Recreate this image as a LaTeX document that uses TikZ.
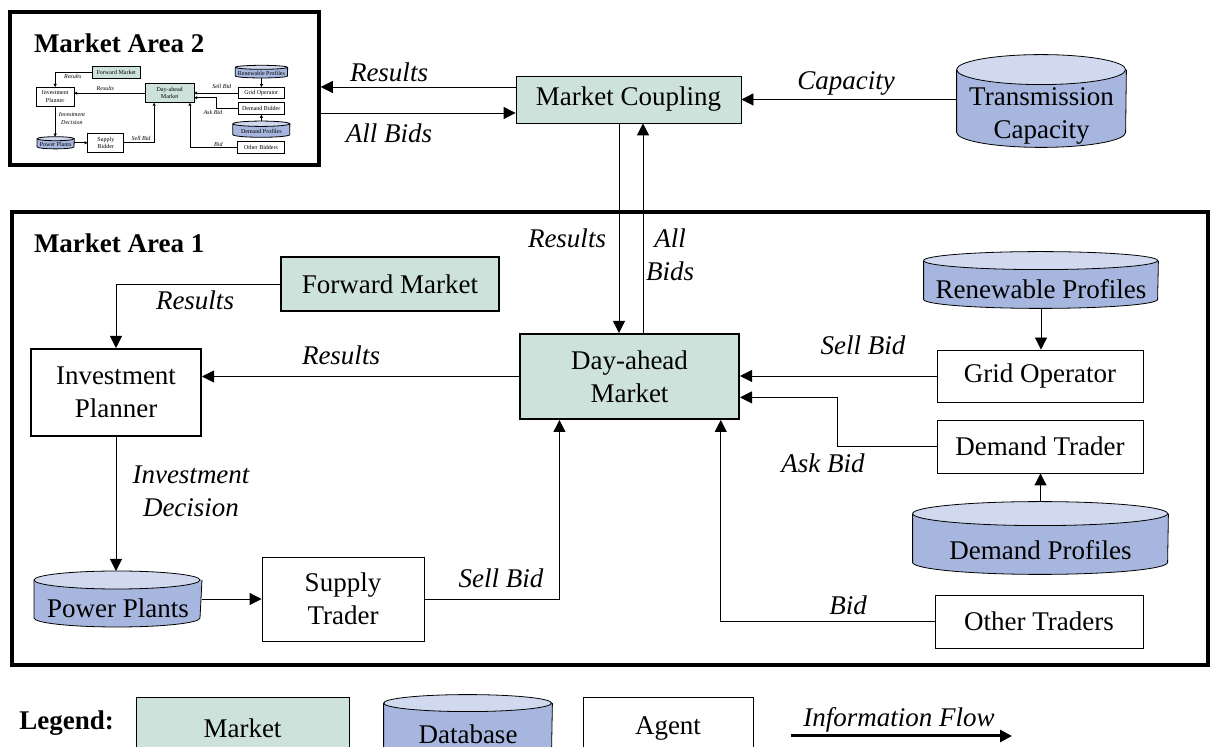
\documentclass[tikz,border=0pt]{standalone}
\usepackage{fontspec}
\setmainfont{Liberation Serif}
\usepackage{tikz}
\usetikzlibrary{positioning,arrows.meta,calc}
\definecolor{mktgreen}{RGB}{206,226,220}
\definecolor{dbblue}{RGB}{166,182,222}
\definecolor{dbtop}{RGB}{208,217,238}
\newcommand{\diafont}{\fontsize{13.5}{16.5}\selectfont}
\pgfdeclarelayer{background}
\pgfsetlayers{background,main}

\tikzset{
  market/.style={draw, fill=mktgreen, inner sep=0pt, align=center},
  agent/.style={draw, fill=white, inner sep=0pt, align=center},
  database/.style={rectangle, inner sep=0pt, align=center},
  flow/.style={->},
  lbl/.style={font=\diafont\itshape, inner sep=1pt, align=center},
  areabox/.style={draw, line width=1.75pt, inner sep=0pt},
  areatitle/.style={font=\diafont\bfseries, anchor=west, inner sep=0pt},
}

% cylinder round a database body node: #1 name, #2 half width, #3 end radius
\newcommand{\dbdraw}[3]{%
  \path (#1.north west) ++(0,-#3) coordinate (#1-tl)
        (#1.south west) ++(0,-#3) coordinate (#1-bl)
        (#1.north east) ++(0,-#3) coordinate (#1-tr)
        (#1.north) ++(0,-2*#3) coordinate (#1-top);
  \begin{pgfonlayer}{background}
    \filldraw[fill=dbblue] (#1-tl) -- (#1-bl) arc[start angle=180, end angle=0, x radius=#2, y radius=#3] -- (#1-tr);
    \filldraw[fill=dbtop] (#1-tl) arc[start angle=180, end angle=-180, x radius=#2, y radius=#3];
  \end{pgfonlayer}
}

% one market area, #1 = Trader or Bidder
\newcommand{\areadiagram}[1]{%
  \node[market, minimum width=109pt, minimum height=27pt] (fm) at (390,284) {Forward Market};
  \node[agent, minimum width=85pt, minimum height=43.5pt] (ip) at (116,392.5) {Investment\\Planner};
  \node[market, minimum width=109.5pt, minimum height=42.5pt] (dam) at (629.5,376.5) {Day-ahead\\Market};
  \node[database, minimum width=83pt, minimum height=18pt] (pp) at (118,608) {Power Plants};
  \dbdraw{pp}{83}{9}
  \node[agent, minimum width=81pt, minimum height=42pt] (st) at (343,599) {Supply\\#1};
  \node[database, minimum width=117pt, minimum height=19pt] (rp) at (1041,289) {Renewable Profiles};
  \dbdraw{rp}{117}{9}
  \node[agent, minimum width=103pt, minimum height=26pt] (go) at (1040,376) {Grid Operator};
  \node[agent, minimum width=103pt, minimum height=26.5pt] (dt) at (1040,446.5) {Demand #1};
  \node[database, minimum width=127.5pt, minimum height=24pt] (dp) at (1040.5,550) {Demand Profiles};
  \dbdraw{dp}{127.5}{12}
  \node[agent, minimum width=104pt, minimum height=26.5pt] (ot) at (1039,621.5) {Other #1s};
  % entry points on the day-ahead market
  \coordinate (stin) at ($(dam.south west)!0.183!(dam.south east)$);
  \coordinate (otin) at ($(dam.south west)!0.913!(dam.south east)$);
  \coordinate (dtin) at ($(dam.north east)!0.74!(dam.south east)$);
  \draw[flow] (fm.west) -| (ip.north);
  \draw[flow] (dam.west) -- (dam.west -| ip.east);
  \draw[flow] (ip.south) -- (ip.south |- pp-top);
  \draw[flow] (st.west -| pp.east) -- (st.west);
  \draw[flow] (st.east) -| (stin);
  \draw[flow] (rp.south) -- (rp.south |- go.north);
  \draw[flow] (go.west) -- (go.west -| dam.east);
  \draw[flow] (dt.west) -- ++(-99,0) |- (dtin);
  \draw[flow] (dp-top) -- (dp-top |- dt.south);
  \draw[flow] (ot.west) -| (otin);
  % labels
  \node[lbl] (l-fmres) at (195,300) {Results};
  \node[lbl] (l-damres) at (341,355) {Results};
  \node[lbl] (l-inv) at (191,491) {Investment\\Decision};
  \node[lbl] (l-stbid) at (501,578) {Sell Bid};
  \node[lbl] (l-gobid) at (863,345) {Sell Bid};
  \node[lbl] (l-dtbid) at (823,463) {Ask Bid};
  \node[lbl] (l-otbid) at (848,605) {Bid};
}

\begin{document}
\begin{tikzpicture}[x=0.5pt, y=-0.5pt, line width=1pt, >={Triangle[length=6pt,width=6pt]}, font=\diafont]
  \useasboundingbox (0,0) rectangle (1210,747);
  \clip (0,0) rectangle (1210,747);
  % market areas
  \node[areabox, minimum width=154.5pt, minimum height=76.5pt] (ma2) at (164.5,88.5) {};
  \node[areabox, minimum width=598pt, minimum height=226.5pt] (ma1) at (610,438.5) {};
  \node[areatitle] (ma2title) at (33,43) {Market Area 2};
  \node[areatitle] (ma1title) at (33,243) {Market Area 1};

  \begin{scope}[shift={(29.3,9.2)}, scale=0.223, transform shape, name prefix=thumb-,
      line width=0.3pt, >={Triangle[length=1.5pt,width=1.5pt]}]
    \areadiagram{Bidder}
  \end{scope}

  \areadiagram{Trader}

  % coupling
  \node[market, minimum width=112.5pt, minimum height=23.5pt] (mc) at (628.5,99.5) {Market Coupling};
  \node[database, minimum width=84.5pt, minimum height=31pt] (tc) at (1041.5,116) {Transmission\\Capacity};
  \dbdraw{tc}{84.5}{15}
  \coordinate (mcres) at ($(mc.west)+(0,-12.5)$);
  \coordinate (mcbid) at ($(mc.west)+(0,13.5)$);
  \coordinate (mcdown) at ($(mc.south)+(-9.5,0)$);
  \coordinate (mcup) at ($(mc.south)+(14.5,0)$);
  \draw[flow] (mcres) -- (mcres -| ma2.east);
  \draw[flow] (mcbid -| ma2.east) -- (mcbid);
  \draw[flow] (mc.east -| tc.west) -- (mc.east);
  \draw[flow] (mcdown) -- (mcdown |- dam.north);
  \draw[flow] (mcup |- dam.north) -- (mcup);
  \node[lbl] (l-mcres) at (389,72) {Results};
  \node[lbl] (l-mcbid) at (389,133) {All Bids};
  \node[lbl] (l-cap) at (846,83) {Capacity};
  \node[lbl] (l-downres) at (567,238) {Results};
  \node[lbl] (l-upbid) at (670,255) {All\\Bids};

  % legend
  \node[areatitle] (lgtitle) at (19,723) {Legend:};
  \node[market, minimum width=106.5pt, minimum height=31.5pt] (lgmkt) at (242.5,728.5) {Market};
  \node[database, minimum width=84pt, minimum height=22.5pt] (lgdb) at (468,734.5) {Database};
  \dbdraw{lgdb}{84}{8.5}
  \node[agent, minimum width=85pt, minimum height=31.5pt] (lgag) at (668,728.5) {Agent};
  \coordinate (lgs) at (791,736);
  \coordinate (lge) at (1012,736);
  \draw[flow, line width=1.5pt] (lgs) -- (lge);
  \node[lbl] (lgflow) at (899,720) {Information Flow};
\end{tikzpicture}
\end{document}
